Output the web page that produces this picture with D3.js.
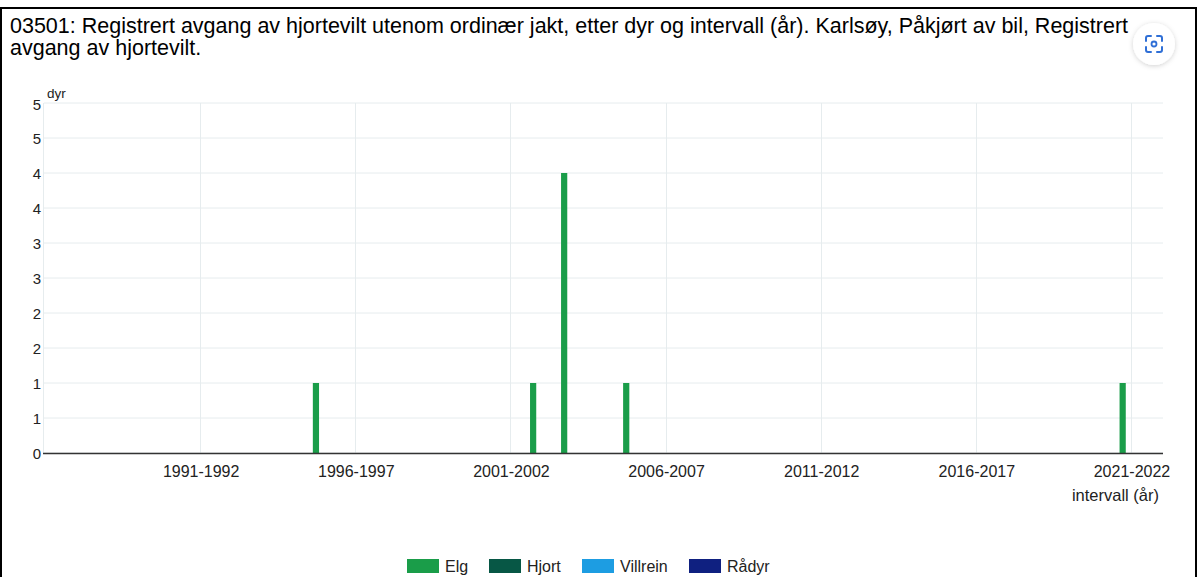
<!DOCTYPE html>
<html>
<head>
<meta charset="utf-8">
<script src="https://cdn.jsdelivr.net/npm/d3@7"></script>
<style>
  body { margin: 0; background: #fff; }
  svg { display: block; font-family: "Liberation Sans", Arial, sans-serif; }
</style>
</head>
<body>
<svg id="chart" width="1198" height="577"></svg>
<script>
// intervals on the x axis (1986-1987 ... 2021-2022)
const intervals = d3.range(1986, 2022).map(y => y + '-' + (y + 1));
const seriesNames = ['Elg', 'Hjort', 'Villrein', 'Rådyr'];
const seriesColors = ['#1a9d49', '#075745', '#1d9de2', '#0f2080'];
// only Elg has registrations, the rest are zero
const elg = intervals.map(d => ({'1995-1996': 1, '2002-2003': 1, '2003-2004': 4, '2005-2006': 1, '2021-2022': 1}[d] || 0));
const hjort = intervals.map(() => 0);
const villrein = intervals.map(() => 0);
const radyr = intervals.map(() => 0);
const seriesValues = [elg, hjort, villrein, radyr];
const yTicks = d3.range(0, 5.01, 0.5);
const xTickLabels = ['1991-1992', '1996-1997', '2001-2002', '2006-2007', '2011-2012', '2016-2017', '2021-2022'];

var svg = d3.select('#chart');

var plot = { l: 46, r: 1163, t: 103, b: 453 };

// x is a linear scale on the interval index, ticks sit on the category centre
var xScale = d3.scaleLinear()
  .domain([0, intervals.length])
  .range([plot.l, plot.r]);

var yScale = d3.scaleLinear()
  .domain([0, 5])
  .range([plot.b, plot.t]);

var step = xScale(1) - xScale(0);
var barW = step * 0.8 / seriesNames.length;

// frame
svg.append('rect')
  .attr('x', 1).attr('y', 8)
  .attr('width', 1195).attr('height', 600)
  .attr('fill', 'none')
  .attr('stroke', '#000')
  .attr('stroke-width', 2);

// title
var title = svg.append('text')
  .attr('x', 10).attr('y', 33)
  .attr('font-size', '21.5px')
  .attr('fill', '#000');
title.append('tspan').attr('x', 10).text('03501: Registrert avgang av hjortevilt utenom ordinær jakt, etter dyr og intervall (år). Karlsøy, Påkjørt av bil, Registrert');
title.append('tspan').attr('x', 10).attr('dy', 22).text('avgang av hjortevilt.');

// horizontal grid
svg.append('g')
  .selectAll('line')
  .data(yTicks)
  .join('line')
  .attr('x1', plot.l - 2).attr('x2', plot.r)
  .attr('y1', d => yScale(d)).attr('y2', d => yScale(d))
  .attr('stroke', '#e6ecee')
  .attr('stroke-width', 1);

// vertical grid
var xTickIdx = xTickLabels.map(l => intervals.indexOf(l));
svg.append('g')
  .selectAll('line')
  .data([0].concat(xTickIdx))
  .join('line')
  .attr('x1', d => Math.round(xScale(d)) - 0.5 - (d === 0 ? 2 : 0))
  .attr('x2', d => Math.round(xScale(d)) - 0.5 - (d === 0 ? 2 : 0))
  .attr('y1', plot.t).attr('y2', plot.b)
  .attr('stroke', '#e6ecee');

// y axis labels (rounded, as in the original)
svg.append('g')
  .selectAll('text')
  .data(yTicks)
  .join('text')
  .attr('x', 41)
  .attr('y', d => yScale(d) + (d === 5 ? 7 : 5.5))
  .attr('text-anchor', 'end')
  .attr('font-size', '15px')
  .attr('fill', '#222')
  .text(d => Math.round(d));

svg.append('text')
  .attr('x', 47).attr('y', 98)
  .attr('font-size', '13.5px')
  .attr('fill', '#222')
  .text('dyr');

// bars
seriesValues.forEach(function(vals, s) {
  svg.append('g')
    .selectAll('rect')
    .data(vals.map((v, i) => ({ i: i, v: v })).filter(d => d.v > 0))
    .join('rect')
    .attr('x', d => xScale(d.i) - step * 0.4 + s * barW)
    .attr('y', d => yScale(d.v))
    .attr('width', barW)
    .attr('height', d => yScale(0) - yScale(d.v))
    .attr('fill', seriesColors[s]);
});

// x axis line
svg.append('line')
  .attr('x1', plot.l - 3).attr('x2', plot.r)
  .attr('y1', plot.b + 0.5).attr('y2', plot.b + 0.5)
  .attr('stroke', '#333')
  .attr('stroke-width', 1.5);

// x tick labels
svg.append('g')
  .selectAll('text')
  .data(xTickLabels)
  .join('text')
  .attr('x', d => xScale(intervals.indexOf(d)))
  .attr('y', 477)
  .attr('text-anchor', 'middle')
  .attr('font-size', '16px')
  .attr('fill', '#222')
  .text(d => d);

svg.append('text')
  .attr('x', 1159).attr('y', 501)
  .attr('text-anchor', 'end')
  .attr('font-size', '16.5px')
  .attr('fill', '#222')
  .text('intervall (år)');

// legend
var legendX = [407, 489, 582, 689];
var legend = svg.append('g')
  .selectAll('g')
  .data(seriesNames)
  .join('g')
  .attr('transform', (d, i) => `translate(${legendX[i]}, 559)`);
legend.append('rect')
  .attr('width', 32).attr('height', 14)
  .attr('fill', (d, i) => seriesColors[i]);
legend.append('text')
  .attr('x', 38).attr('y', 13)
  .attr('font-size', '16px')
  .attr('fill', '#222')
  .text(d => d);

// floating lens button in the corner
var defs = svg.append('defs');
var f = defs.append('filter').attr('id', 'sh').attr('x', '-50%').attr('y', '-50%').attr('width', '200%').attr('height', '200%');
f.append('feDropShadow').attr('dx', 0).attr('dy', 1).attr('stdDeviation', 2.5).attr('flood-color', '#000').attr('flood-opacity', 0.18);
var btn = svg.append('g').attr('transform', 'translate(1154, 44)');
btn.append('circle').attr('r', 21).attr('fill', '#fff').attr('filter', 'url(#sh)');
btn.append('path')
  .attr('d', 'M-8,-3 V-6 Q-8,-8 -6,-8 H-3 M3,-8 H6 Q8,-8 8,-6 V-3 M8,3 V6 Q8,8 6,8 H3 M-3,8 H-6 Q-8,8 -8,6 V3')
  .attr('fill', 'none')
  .attr('stroke', '#2f6fd6')
  .attr('stroke-width', 2)
  .attr('stroke-linecap', 'round');
btn.append('circle').attr('r', 2.5).attr('fill', 'none').attr('stroke', '#2f6fd6').attr('stroke-width', 1.8);
</script>
</body>
</html>
